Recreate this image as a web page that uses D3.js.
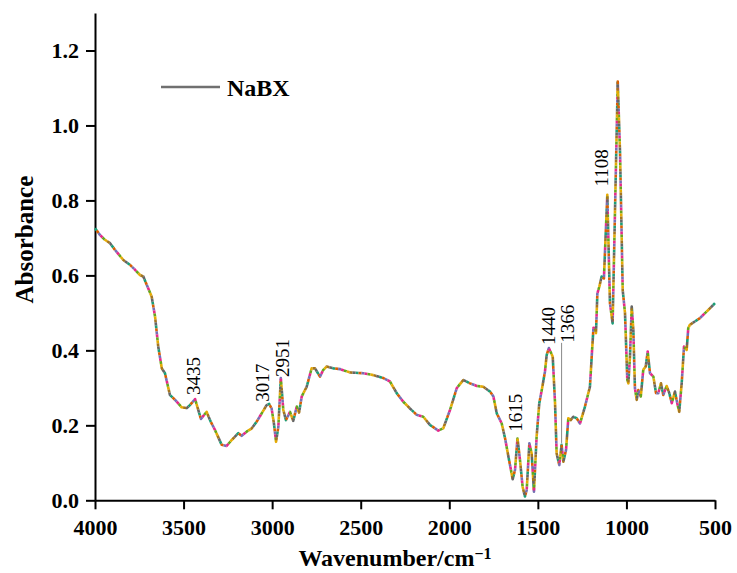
<!DOCTYPE html>
<html>
<head>
<meta charset="utf-8">
<script src="https://cdn.jsdelivr.net/npm/d3@7"></script>
<style>
  body { margin: 0; background: #fff; }
  svg { display: block; }
</style>
</head>
<body>
<div id="ftir-chart"></div>
<script>
// spectrum (wavenumber in cm-1, absorbance)
const wavenumber = [
  4000, 3972, 3944, 3915, 3887, 3840, 3802, 3774, 3746, 3727, 3708, 3680, 3661, 3643, 3623, 3605,
  3577, 3548, 3511, 3482, 3464, 3435, 3417, 3402, 3370, 3347, 3323, 3285, 3257, 3228, 3191, 3172,
  3144, 3115, 3087, 3059, 3031, 3017, 3003, 2990, 2978, 2965, 2951, 2937, 2922, 2899, 2881, 2861,
  2848, 2833, 2805, 2777, 2758, 2730, 2711, 2692, 2655, 2617, 2560, 2485, 2429, 2372, 2335, 2297,
  2260, 2222, 2184, 2147, 2109, 2062, 2034, 1996, 1958, 1921, 1883, 1845, 1808, 1770, 1751, 1732,
  1704, 1685, 1666, 1642, 1629, 1615, 1601, 1586, 1573, 1563, 1548, 1535, 1522, 1507, 1492, 1478,
  1460, 1450, 1438, 1416, 1403, 1394, 1379, 1366, 1356, 1341, 1328, 1315, 1300, 1281, 1262, 1234,
  1206, 1194, 1186, 1177, 1172, 1164, 1153, 1140, 1127, 1108, 1093, 1078, 1049, 1036, 1021, 1008,
  995, 989, 980, 970, 961, 952, 942, 933, 919, 905, 891, 880, 867, 848, 833, 820,
  805, 792, 773, 758, 744, 726, 713, 702, 688, 675, 660, 651, 642, 585, 529, 500
];
const absorbance = [
  0.726, 0.708, 0.695, 0.686, 0.668, 0.641, 0.628, 0.615, 0.601, 0.597, 0.575, 0.543, 0.490, 0.410, 0.352, 0.339,
  0.281, 0.268, 0.248, 0.246, 0.254, 0.270, 0.241, 0.217, 0.236, 0.210, 0.188, 0.148, 0.145, 0.161, 0.179, 0.172,
  0.183, 0.192, 0.210, 0.232, 0.254, 0.257, 0.245, 0.205, 0.156, 0.196, 0.326, 0.241, 0.214, 0.236, 0.212, 0.250,
  0.234, 0.277, 0.303, 0.352, 0.352, 0.330, 0.348, 0.357, 0.352, 0.350, 0.341, 0.339, 0.334, 0.326, 0.317, 0.286,
  0.263, 0.245, 0.228, 0.223, 0.201, 0.186, 0.192, 0.241, 0.299, 0.321, 0.312, 0.305, 0.303, 0.290, 0.277, 0.232,
  0.205, 0.165, 0.116, 0.056, 0.081, 0.165, 0.108, 0.036, 0.010, 0.027, 0.152, 0.125, 0.023, 0.170, 0.259, 0.294,
  0.343, 0.388, 0.406, 0.383, 0.259, 0.125, 0.094, 0.148, 0.103, 0.134, 0.219, 0.214, 0.223, 0.219, 0.205, 0.250,
  0.303, 0.400, 0.460, 0.459, 0.446, 0.552, 0.570, 0.597, 0.592, 0.815, 0.526, 0.472, 1.117, 0.926, 0.561, 0.499,
  0.321, 0.312, 0.383, 0.517, 0.454, 0.299, 0.268, 0.294, 0.277, 0.348, 0.357, 0.397, 0.339, 0.330, 0.286, 0.286,
  0.312, 0.281, 0.305, 0.286, 0.259, 0.290, 0.259, 0.236, 0.312, 0.410, 0.401, 0.459, 0.468, 0.486, 0.512, 0.526
];

const xTicks = [4000, 3500, 3000, 2500, 2000, 1500, 1000, 500];
const yTicks = [0, 0.2, 0.4, 0.6, 0.8, 1.0, 1.2];

// peak annotations: label, wavenumber, absorbance where the label starts
const peakLabels = ["3435", "3017", "2951", "1615", "1440", "1366", "1108"];
const peakWn = [3435, 3017, 2951, 1615, 1440, 1366, 1108];
const peakLabelAbs = [0.281, 0.263, 0.329, 0.183, 0.414, 0.420, 0.837];
const seriesName = "NaBX";

const fullWidth = 737, fullHeight = 573;
const margin = { top: 13, right: 22, bottom: 72.7, left: 95 };
const width = fullWidth - margin.left - margin.right;
const height = fullHeight - margin.top - margin.bottom;
const font = "'Liberation Serif', 'Times New Roman', serif";

const svg = d3.select("#ftir-chart")
  .append("svg")
  .attr("width", fullWidth)
  .attr("height", fullHeight)
  .append("g")
  .attr("transform", `translate(${margin.left},${margin.top})`);

const x = d3.scaleLinear().domain([4000, 500]).range([0, width]);
const y = d3.scaleLinear().domain([0, 1.3]).range([height, 0]);

svg.append("g")
  .attr("class", "x-axis")
  .attr("transform", `translate(0,${height})`)
  .call(d3.axisBottom(x).tickValues(xTicks).tickFormat(d3.format("d"))
    .tickSize(9).tickSizeOuter(0).tickPadding(10));

svg.append("g")
  .attr("class", "y-axis")
  .call(d3.axisLeft(y).tickValues(yTicks).tickFormat(d3.format(".1f"))
    .tickSize(9).tickSizeOuter(0).tickPadding(7));

svg.selectAll(".x-axis path, .y-axis path, .x-axis line, .y-axis line")
  .attr("stroke", "#000")
  .attr("stroke-width", 2);

svg.selectAll(".x-axis text, .y-axis text")
  .attr("fill", "#000")
  .style("font-family", font)
  .style("font-weight", "bold")
  .style("font-size", "22px");

// spectrum, drawn as interleaved dashes of several colours
const pts = wavenumber.map((w, i) => [w, absorbance[i]]);
const line = d3.line().x(d => x(d[0])).y(d => y(d[1]));
const colors = d3.schemeDark2;
const dash = 3;

colors.forEach((c, i) => {
  svg.append("path")
    .datum(pts)
    .attr("fill", "none")
    .attr("stroke", c)
    .attr("stroke-width", 2.6)
    .attr("stroke-linejoin", "round")
    .attr("stroke-dasharray", `${dash},${dash * (colors.length - 1)}`)
    .attr("stroke-dashoffset", -i * dash)
    .attr("d", line);
});

// leader line for 1366
svg.append("line")
  .attr("x1", x(1366))
  .attr("x2", x(1366))
  .attr("y1", y(0.42))
  .attr("y2", y(0.153))
  .attr("stroke", "#888")
  .attr("stroke-width", 1);

const labelDx = [-2, -7, 2, -2, 0, 6, -6];
svg.selectAll(".peak-label")
  .data(peakLabels)
  .enter()
  .append("text")
  .attr("class", "peak-label")
  .attr("transform", (d, i) => `translate(${x(peakWn[i]) + labelDx[i]},${y(peakLabelAbs[i])}) rotate(-90)`)
  .attr("dy", "0.35em")
  .style("font-family", font)
  .style("font-size", "19px")
  .attr("fill", "#000")
  .text(d => d);

// legend
const legend = svg.append("g").attr("class", "legend");
legend.append("line")
  .attr("x1", 66).attr("x2", 125)
  .attr("y1", 74).attr("y2", 74)
  .attr("stroke", "#707070")
  .attr("stroke-width", 2.5);
legend.append("text")
  .attr("x", 132).attr("y", 83)
  .style("font-family", font)
  .style("font-weight", "bold")
  .style("font-size", "24px")
  .attr("fill", "#000")
  .text(seriesName);

// axis titles
const xTitle = svg.append("text")
  .attr("x", width / 2 - 10)
  .attr("y", height + 66)
  .attr("text-anchor", "middle")
  .style("font-family", font)
  .style("font-weight", "bold")
  .style("font-size", "24px")
  .attr("fill", "#000");
xTitle.append("tspan").text("Wavenumber/cm");
xTitle.append("tspan").attr("dy", "-0.45em").style("font-size", "16px").text("\u22121");

svg.append("text")
  .attr("transform", `translate(${-margin.left + 33},${height / 2 - 17}) rotate(-90)`)
  .attr("text-anchor", "middle")
  .style("font-family", font)
  .style("font-weight", "bold")
  .style("font-size", "25px")
  .attr("fill", "#000")
  .text("Absorbance");
</script>
</body>
</html>
